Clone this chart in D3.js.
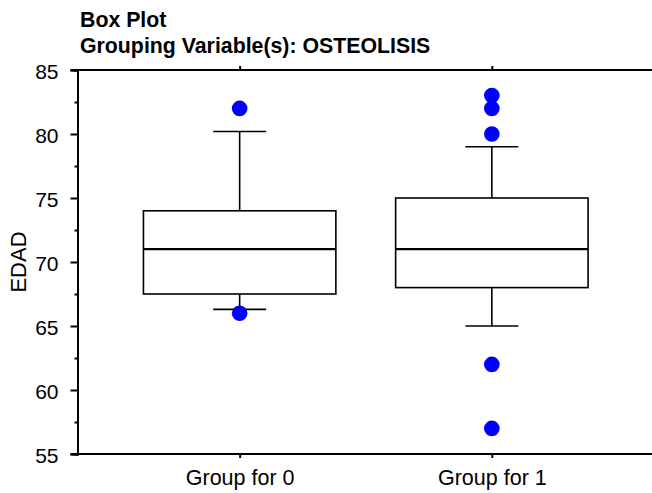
<!DOCTYPE html>
<html>
<head>
<meta charset="utf-8">
<script src="https://cdn.jsdelivr.net/npm/d3@7"></script>
<style>
  body { margin: 0; background: #fff; }
  text { font-family: Arial, "Liberation Sans", sans-serif; }
</style>
</head>
<body>
<div id="chart"></div>
<script>
// values
const groups = ['Group for 0', 'Group for 1'];
const q1 = [67.5, 68];
const medians = [71, 71];
const q3 = [74, 75];
const whiskerLow = [66.3, 65];
const whiskerHigh = [80.2, 79];
const outliers = [[82, 66], [83, 82, 80, 62, 57]];
const yMajorTicks = [55, 60, 65, 70, 75, 80, 85];
const yMinorTicks = [57.5, 62.5, 67.5, 72.5, 77.5, 82.5];

const W = 652, H = 493;
const margin = { left: 77.5, right: -2, top: 70, bottom: 39 };

const svg = d3.select('#chart').append('svg')
  .attr('width', W).attr('height', H);

const x = d3.scalePoint()
  .domain(groups)
  .range([margin.left, W - margin.right])
  .padding(0.643);

const y = d3.scaleLinear()
  .domain([55, 85])
  .range([H - margin.bottom, margin.top]);

const step = x.step();
const boxW = step * 0.763;
const capW = step * 0.21;

// title
svg.append('text')
  .attr('x', 80).attr('y', 26.5)
  .attr('font-size', 21.3).attr('font-weight', 'bold')
  .text('Box Plot');
svg.append('text')
  .attr('x', 80).attr('y', 53.3)
  .attr('font-size', 21.3).attr('font-weight', 'bold')
  .text('Grouping Variable(s): OSTEOLISIS');

// axes
const yAxis = svg.append('g')
  .attr('transform', `translate(${margin.left},0)`)
  .call(d3.axisLeft(y).tickValues(yMajorTicks).tickSize(7).tickPadding(12));
const yMinor = svg.append('g')
  .attr('transform', `translate(${margin.left},0)`)
  .call(d3.axisLeft(y).tickValues(yMinorTicks).tickSize(3).tickFormat(''));

const xBottom = svg.append('g')
  .attr('transform', `translate(0,${y(55)})`)
  .call(d3.axisBottom(x).tickSize(4).tickPadding(12));
const xTop = svg.append('g')
  .attr('transform', `translate(0,${y(85)})`)
  .call(d3.axisTop(x).tickSize(4).tickFormat(''));

[yAxis, yMinor, xBottom, xTop].forEach(g => {
  g.select('.domain').attr('stroke', '#000').attr('stroke-width', 2);
  g.selectAll('.tick line').attr('stroke', '#000').attr('stroke-width', 2);
  g.selectAll('.tick text').attr('fill', '#000').attr('font-size', 21)
    .attr('font-family', 'Arial, "Liberation Sans", sans-serif');
});
yAxis.selectAll('.tick text').attr('dy', '0.4em');
xBottom.selectAll('.tick text').attr('font-size', 21.5).attr('dy', '0.7em');
// bottom and top frame run across the whole width
xBottom.select('.domain').attr('d', `M${margin.left - 7},0H${W + 5}`);
xTop.select('.domain').attr('d', `M${margin.left - 7},0H${W + 5}`);

// y label
svg.append('text')
  .attr('transform', `translate(26,${(y(55) + y(85)) / 2}) rotate(-90)`)
  .attr('text-anchor', 'middle')
  .attr('font-size', 22)
  .text('EDAD');

// boxes
const boxes = svg.append('g').selectAll('g')
  .data(groups)
  .join('g');

boxes.append('line')
  .attr('x1', d => x(d)).attr('x2', d => x(d))
  .attr('y1', (d, i) => y(q3[i])).attr('y2', (d, i) => y(whiskerHigh[i]))
  .attr('stroke', '#000').attr('stroke-width', 1.6);
boxes.append('line')
  .attr('x1', d => x(d)).attr('x2', d => x(d))
  .attr('y1', (d, i) => y(q1[i])).attr('y2', (d, i) => y(whiskerLow[i]))
  .attr('stroke', '#000').attr('stroke-width', 1.6);
boxes.append('line')
  .attr('x1', d => x(d) - capW / 2).attr('x2', d => x(d) + capW / 2)
  .attr('y1', (d, i) => y(whiskerHigh[i])).attr('y2', (d, i) => y(whiskerHigh[i]))
  .attr('stroke', '#000').attr('stroke-width', 1.6);
boxes.append('line')
  .attr('x1', d => x(d) - capW / 2).attr('x2', d => x(d) + capW / 2)
  .attr('y1', (d, i) => y(whiskerLow[i])).attr('y2', (d, i) => y(whiskerLow[i]))
  .attr('stroke', '#000').attr('stroke-width', 1.6);
boxes.append('rect')
  .attr('x', d => x(d) - boxW / 2).attr('width', boxW)
  .attr('y', (d, i) => y(q3[i]))
  .attr('height', (d, i) => y(q1[i]) - y(q3[i]))
  .attr('fill', 'none').attr('stroke', '#000').attr('stroke-width', 1.6);
boxes.append('line')
  .attr('x1', d => x(d) - boxW / 2).attr('x2', d => x(d) + boxW / 2)
  .attr('y1', (d, i) => y(medians[i])).attr('y2', (d, i) => y(medians[i]))
  .attr('stroke', '#000').attr('stroke-width', 2.2);

// outliers
boxes.selectAll('circle')
  .data((d, i) => outliers[i].map(v => ({ g: d, v })))
  .join('circle')
  .attr('cx', d => x(d.g))
  .attr('cy', d => y(d.v))
  .attr('r', 7.8)
  .attr('fill', '#0000ff');
</script>
</body>
</html>
